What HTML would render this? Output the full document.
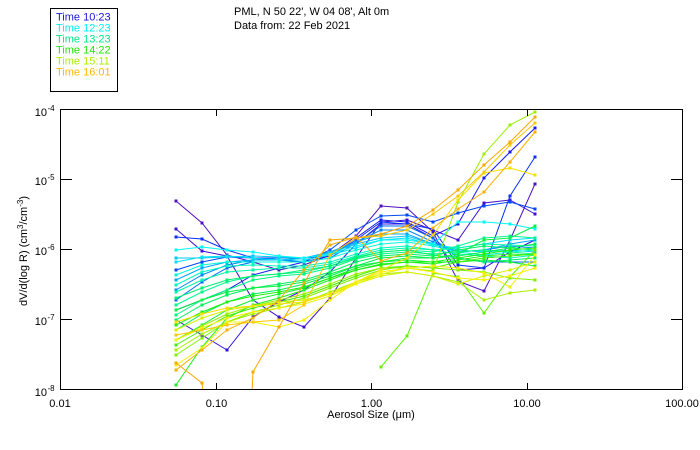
<!DOCTYPE html>
<html>
<head>
<meta charset="utf-8">
<style>
html,body{margin:0;padding:0;background:#fff;width:700px;height:450px;overflow:hidden;}
svg{display:block;}
text{font-family:"Liberation Sans",sans-serif;font-size:11px;fill:#000;}
.s polyline{fill:none;stroke-width:1;}
.s path{fill:none;stroke-width:3;stroke-linecap:square;}
</style>
</head>
<body>
<svg width="700" height="450" viewBox="0 0 700 450" xmlns="http://www.w3.org/2000/svg">
<defs>
<clipPath id="pc"><rect x="60" y="109" width="623" height="281"/></clipPath>
</defs>

<!-- Legend -->
<rect x="50.5" y="8.5" width="67" height="83" fill="none" stroke="#000" stroke-width="1" shape-rendering="crispEdges"/>
<text x="56" y="20.3" style="fill:#1818e0">Time 10:23</text>
<text x="56" y="31.4" style="fill:#00f0f0">Time 12:23</text>
<text x="56" y="42.5" style="fill:#00e888">Time 13:23</text>
<text x="56" y="53.5" style="fill:#20e800">Time 14:22</text>
<text x="56" y="64.6" style="fill:#a8f000">Time 15:11</text>
<text x="56" y="75.7" style="fill:#ffb800">Time 16:01</text>

<!-- Title -->
<text x="234" y="15">PML, N 50 22', W 04 08', Alt 0m</text>
<text x="234" y="29">Data from: 22 Feb 2021</text>

<!-- Series -->
<g class="s" clip-path="url(#pc)">
<g stroke="#5010c0"><polyline points="176,201 202,223 227,255 253,262 279,270 304,265 330,255 356,236 381,206 407,208 433,232 458,281 484,291 510,240 535,184"/><path d="M176 201h0M202 223h0M227 255h0M253 262h0M279 270h0M304 265h0M330 255h0M356 236h0M381 206h0M407 208h0M433 232h0M458 281h0M484 291h0M510 240h0M535 184h0"/></g>
<g stroke="#4010d0"><polyline points="176,229 202,251 227,256 253,300 279,317 304,327 330,298 356,258 381,222 407,220 433,230 458,240 484,203 510,200 535,214"/><path d="M176 229h0M202 251h0M227 256h0M253 300h0M279 317h0M304 327h0M330 298h0M356 258h0M381 222h0M407 220h0M433 230h0M458 240h0M484 203h0M510 200h0M535 214h0"/></g>
<g stroke="#3010e0"><polyline points="176,320 202,335 227,350 253,317 279,302 304,290 330,272 356,244 381,224 407,224 433,238 458,270 484,268 510,252 535,240"/><path d="M176 320h0M202 335h0M227 350h0M253 317h0M279 302h0M304 290h0M330 272h0M356 244h0M381 224h0M407 224h0M433 238h0M458 270h0M484 268h0M510 252h0M535 240h0"/></g>
<g stroke="#1818f0"><polyline points="176,310 202,300 227,290 253,275 279,268 304,262 330,256 356,238 381,220 407,222 433,236 458,224 484,178 510,152 535,128"/><path d="M176 310h0M202 300h0M227 290h0M253 275h0M279 268h0M304 262h0M330 256h0M356 238h0M381 220h0M407 222h0M433 236h0M458 224h0M484 178h0M510 152h0M535 128h0"/></g>
<g stroke="#0a30f8"><polyline points="176,237 202,239 227,250 253,258 279,258 304,258 330,256 356,240 381,222 407,224 433,229 458,265 484,268 510,196 535,157"/><path d="M176 237h0M202 239h0M227 250h0M253 258h0M279 258h0M304 258h0M330 256h0M356 240h0M381 222h0M407 224h0M433 229h0M458 265h0M484 268h0M510 196h0M535 157h0"/></g>
<g stroke="#0048f8"><polyline points="176,270 202,262 227,257 253,258 279,260 304,262 330,250 356,230 381,216 407,215 433,222 458,213 484,206 510,202 535,209"/><path d="M176 270h0M202 262h0M227 257h0M253 258h0M279 260h0M304 262h0M330 250h0M356 230h0M381 216h0M407 215h0M433 222h0M458 213h0M484 206h0M510 202h0M535 209h0"/></g>
<g stroke="#0068f8"><polyline points="176,300 202,282 227,268 253,262 279,262 304,262 330,258 356,243 381,226 407,226 433,238 458,258 484,262 510,262 535,262"/><path d="M176 300h0M202 282h0M227 268h0M253 262h0M279 262h0M304 262h0M330 258h0M356 243h0M381 226h0M407 226h0M433 238h0M458 258h0M484 262h0M510 262h0M535 262h0"/></g>
<g stroke="#0088f8"><polyline points="176,290 202,275 227,265 253,260 279,258 304,258 330,254 356,242 381,230 407,230 433,242 458,252 484,250 510,246 535,248"/><path d="M176 290h0M202 275h0M227 265h0M253 260h0M279 258h0M304 258h0M330 254h0M356 242h0M381 230h0M407 230h0M433 242h0M458 252h0M484 250h0M510 246h0M535 248h0"/></g>
<g stroke="#00a8f8"><polyline points="176,280 202,268 227,262 253,260 279,260 304,258 330,252 356,242 381,234 407,234 433,244 458,252 484,250 510,244 535,240"/><path d="M176 280h0M202 268h0M227 262h0M253 260h0M279 260h0M304 258h0M330 252h0M356 242h0M381 234h0M407 234h0M433 244h0M458 252h0M484 250h0M510 244h0M535 240h0"/></g>
<g stroke="#00c8f8"><polyline points="176,258 202,258 227,257 253,256 279,257 304,258 330,253 356,244 381,238 407,236 433,244 458,250 484,252 510,250 535,252"/><path d="M176 258h0M202 258h0M227 257h0M253 256h0M279 257h0M304 258h0M330 253h0M356 244h0M381 238h0M407 236h0M433 244h0M458 250h0M484 252h0M510 250h0M535 252h0"/></g>
<g stroke="#00e0f8"><polyline points="176,262 202,257 227,256 253,258 279,260 304,260 330,255 356,248 381,240 407,238 433,245 458,248 484,244 510,240 535,238"/><path d="M176 262h0M202 257h0M227 256h0M253 258h0M279 260h0M304 260h0M330 255h0M356 248h0M381 240h0M407 238h0M433 245h0M458 248h0M484 244h0M510 240h0M535 238h0"/></g>
<g stroke="#00f8f8"><polyline points="176,250 202,247 227,250 253,252 279,256 304,258 330,254 356,246 381,240 407,240 433,244 458,222 484,222 510,224 535,229"/><path d="M176 250h0M202 247h0M227 250h0M253 252h0M279 256h0M304 258h0M330 254h0M356 246h0M381 240h0M407 240h0M433 244h0M458 222h0M484 222h0M510 224h0M535 229h0"/></g>
<g stroke="#00f8d8"><polyline points="176,275 202,265 227,262 253,262 279,262 304,262 330,258 356,250 381,244 407,242 433,246 458,252 484,255 510,252 535,250"/><path d="M176 275h0M202 265h0M227 262h0M253 262h0M279 262h0M304 262h0M330 258h0M356 250h0M381 244h0M407 242h0M433 246h0M458 252h0M484 255h0M510 252h0M535 250h0"/></g>
<g stroke="#00f8c0"><polyline points="176,285 202,272 227,266 253,265 279,266 304,266 330,262 356,254 381,248 407,246 433,250 458,254 484,256 510,258 535,255"/><path d="M176 285h0M202 272h0M227 266h0M253 265h0M279 266h0M304 266h0M330 262h0M356 254h0M381 248h0M407 246h0M433 250h0M458 254h0M484 256h0M510 258h0M535 255h0"/></g>
<g stroke="#00f8a8"><polyline points="176,292 202,280 227,272 253,270 279,268 304,268 330,264 356,256 381,250 407,248 433,250 458,248 484,244 510,245 535,246"/><path d="M176 292h0M202 280h0M227 272h0M253 270h0M279 268h0M304 268h0M330 264h0M356 256h0M381 250h0M407 248h0M433 250h0M458 248h0M484 244h0M510 245h0M535 246h0"/></g>
<g stroke="#00f890"><polyline points="176,305 202,292 227,282 253,276 279,274 304,272 330,266 356,257 381,252 407,250 433,252 458,246 484,238 510,236 535,238"/><path d="M176 305h0M202 292h0M227 282h0M253 276h0M279 274h0M304 272h0M330 266h0M356 257h0M381 252h0M407 250h0M433 252h0M458 246h0M484 238h0M510 236h0M535 238h0"/></g>
<g stroke="#00f880"><polyline points="176,315 202,300 227,290 253,280 279,276 304,274 330,268 356,259 381,254 407,252 433,254 458,252 484,250 510,252 535,254"/><path d="M176 315h0M202 300h0M227 290h0M253 280h0M279 276h0M304 274h0M330 268h0M356 259h0M381 254h0M407 252h0M433 254h0M458 252h0M484 250h0M510 252h0M535 254h0"/></g>
<g stroke="#00f070"><polyline points="176,298 202,288 227,280 253,276 279,274 304,270 330,266 356,258 381,252 407,250 433,255 458,258 484,262 510,260 535,258"/><path d="M176 298h0M202 288h0M227 280h0M253 276h0M279 274h0M304 270h0M330 266h0M356 258h0M381 252h0M407 250h0M433 255h0M458 258h0M484 262h0M510 260h0M535 258h0"/></g>
<g stroke="#00f060"><polyline points="176,320 202,305 227,295 253,288 279,284 304,280 330,272 356,262 381,256 407,254 433,256 458,250 484,246 510,248 535,250"/><path d="M176 320h0M202 305h0M227 295h0M253 288h0M279 284h0M304 280h0M330 272h0M356 262h0M381 256h0M407 254h0M433 256h0M458 250h0M484 246h0M510 248h0M535 250h0"/></g>
<g stroke="#00f050"><polyline points="176,330 202,314 227,302 253,294 279,290 304,284 330,276 356,266 381,258 407,256 433,258 458,256 484,252 510,248 535,244"/><path d="M176 330h0M202 314h0M227 302h0M253 294h0M279 290h0M304 284h0M330 276h0M356 266h0M381 258h0M407 256h0M433 258h0M458 256h0M484 252h0M510 248h0M535 244h0"/></g>
<g stroke="#08f040"><polyline points="176,310 202,300 227,292 253,288 279,286 304,282 330,274 356,266 381,262 407,258 433,258 458,254 484,240 510,238 535,226"/><path d="M176 310h0M202 300h0M227 292h0M253 288h0M279 286h0M304 282h0M330 274h0M356 266h0M381 262h0M407 258h0M433 258h0M458 254h0M484 240h0M510 238h0M535 226h0"/></g>
<g stroke="#10f030"><polyline points="176,340 202,325 227,310 253,300 279,294 304,288 330,278 356,268 381,262 407,260 433,262 458,262 484,260 510,262 535,266"/><path d="M176 340h0M202 325h0M227 310h0M253 300h0M279 294h0M304 288h0M330 278h0M356 268h0M381 262h0M407 260h0M433 262h0M458 262h0M484 260h0M510 262h0M535 266h0"/></g>
<g stroke="#18f020"><polyline points="176,385 202,347 227,318 253,305 279,298 304,290 330,280 356,270 381,264 407,262 433,264 458,260 484,256 510,254 535,255"/><path d="M176 385h0M202 347h0M227 318h0M253 305h0M279 298h0M304 290h0M330 280h0M356 270h0M381 264h0M407 262h0M433 264h0M458 260h0M484 256h0M510 254h0M535 255h0"/></g>
<g stroke="#20f010"><polyline points="176,325 202,312 227,302 253,296 279,292 304,287 330,278 356,270 381,265 407,262 433,262 458,258 484,254 510,250 535,248"/><path d="M176 325h0M202 312h0M227 302h0M253 296h0M279 292h0M304 287h0M330 278h0M356 270h0M381 265h0M407 262h0M433 262h0M458 258h0M484 254h0M510 250h0M535 248h0"/></g>
<g stroke="#40f000"><polyline points="176,345 202,330 227,316 253,308 279,302 304,296 330,286 356,276 381,268 407,266 433,268 458,262 484,258 510,256 535,254"/><path d="M176 345h0M202 330h0M227 316h0M253 308h0M279 302h0M304 296h0M330 286h0M356 276h0M381 268h0M407 266h0M433 268h0M458 262h0M484 258h0M510 256h0M535 254h0"/></g>
<g stroke="#60f000"><polyline points="381,367 407,336 433,273 458,277 484,313 510,277 535,250"/><path d="M381 367h0M407 336h0M433 273h0M458 277h0M484 313h0M510 277h0M535 250h0"/></g>
<g stroke="#80f000"><polyline points="176,355 202,338 227,322 253,312 279,305 304,298 330,288 356,278 381,270 407,266 433,268 458,270 484,272 510,278 535,280"/><path d="M176 355h0M202 338h0M227 322h0M253 312h0M279 305h0M304 298h0M330 288h0M356 278h0M381 270h0M407 266h0M433 268h0M458 270h0M484 272h0M510 278h0M535 280h0"/></g>
<g stroke="#98f000"><polyline points="176,340 202,326 227,314 253,306 279,300 304,294 330,284 356,274 381,268 407,268 433,271 458,202 484,154 510,125 535,112"/><path d="M176 340h0M202 326h0M227 314h0M253 306h0M279 300h0M304 294h0M330 284h0M356 274h0M381 268h0M407 268h0M433 271h0M458 202h0M484 154h0M510 125h0M535 112h0"/></g>
<g stroke="#a8f000"><polyline points="176,350 202,334 227,322 253,314 279,308 304,302 330,292 356,282 381,274 407,272 433,276 458,282 484,300 510,293 535,290"/><path d="M176 350h0M202 334h0M227 322h0M253 314h0M279 308h0M304 302h0M330 292h0M356 282h0M381 274h0M407 272h0M433 276h0M458 282h0M484 300h0M510 293h0M535 290h0"/></g>
<g stroke="#d8f000"><polyline points="176,330 202,318 227,310 253,306 279,302 304,300 330,294 356,284 381,276 407,272 433,276 458,284 484,276 510,270 535,262"/><path d="M176 330h0M202 318h0M227 310h0M253 306h0M279 302h0M304 300h0M330 294h0M356 284h0M381 276h0M407 272h0M433 276h0M458 284h0M484 276h0M510 270h0M535 262h0"/></g>
<g stroke="#f0f000"><polyline points="176,340 202,328 227,318 253,312 279,308 304,304 330,296 356,284 381,274 407,268 433,266 458,268 484,273 510,287 535,255"/><path d="M176 340h0M202 328h0M227 318h0M253 312h0M279 308h0M304 304h0M330 296h0M356 284h0M381 274h0M407 268h0M433 266h0M458 268h0M484 273h0M510 287h0M535 255h0"/></g>
<g stroke="#f8e000"><polyline points="176,322 202,314 227,308 253,306 279,304 304,302 330,294 356,282 381,270 407,258 433,235 458,200 484,173 510,168 535,175"/><path d="M176 322h0M202 314h0M227 308h0M253 306h0M279 304h0M304 302h0M330 294h0M356 282h0M381 270h0M407 258h0M433 235h0M458 200h0M484 173h0M510 168h0M535 175h0"/></g>
<g stroke="#f8f000"><polyline points="176,365 202,348 227,322 253,322 279,327 304,320 330,300 356,282 381,272 407,268 433,272 458,278 484,280 510,276 535,268"/><path d="M176 365h0M202 348h0M227 322h0M253 322h0M279 327h0M304 320h0M330 300h0M356 282h0M381 272h0M407 268h0M433 272h0M458 278h0M484 280h0M510 276h0M535 268h0"/></g>
<g stroke="#f8c800"><polyline points="176,335 202,330 227,325 253,322 279,320 304,305 330,255 356,238 381,236 407,230 433,214 458,196 484,172 510,145 535,123"/><path d="M176 335h0M202 330h0M227 325h0M253 322h0M279 320h0M304 305h0M330 255h0M356 238h0M381 236h0M407 230h0M433 214h0M458 196h0M484 172h0M510 145h0M535 123h0"/></g>
<g stroke="#f8a800"><polyline points="176,363 202,383 203,392"/><polyline points="252,392 253,372 279,327 304,283 330,240 356,238 381,234 407,226 433,210 458,190 484,165 510,142 535,117"/><path d="M176 363h0M202 383h0M253 372h0M279 327h0M304 283h0M330 240h0M356 238h0M381 234h0M407 226h0M433 210h0M458 190h0M484 165h0M510 142h0M535 117h0"/></g>
<g stroke="#f8b000"><polyline points="176,370 202,350 227,330 253,318 279,300 304,270 330,245 356,237 381,261 407,253 433,228 458,209 484,192 510,162 535,132"/><path d="M176 370h0M202 350h0M227 330h0M253 318h0M279 300h0M304 270h0M330 245h0M356 237h0M381 261h0M407 253h0M433 228h0M458 209h0M484 192h0M510 162h0M535 132h0"/></g>
</g>

<!-- Axes frame and ticks -->
<g stroke="#000" stroke-width="1" fill="none" shape-rendering="crispEdges">
<rect x="60.5" y="109.5" width="622" height="280"/>
<line x1="60" y1="179.5" x2="72" y2="179.5"/>
<line x1="60" y1="249.5" x2="72" y2="249.5"/>
<line x1="60" y1="319.5" x2="72" y2="319.5"/>
<line x1="671" y1="179.5" x2="683" y2="179.5"/>
<line x1="671" y1="249.5" x2="683" y2="249.5"/>
<line x1="671" y1="319.5" x2="683" y2="319.5"/>
<line x1="216.5" y1="383" x2="216.5" y2="390"/>
<line x1="371.5" y1="383" x2="371.5" y2="390"/>
<line x1="527.5" y1="383" x2="527.5" y2="390"/>
<line x1="216.5" y1="109" x2="216.5" y2="116"/>
<line x1="371.5" y1="109" x2="371.5" y2="116"/>
<line x1="527.5" y1="109" x2="527.5" y2="116"/>
</g>

<!-- Y tick labels -->
<text x="47" y="116" text-anchor="end">10</text><text x="47.5" y="111" style="font-size:8px">-4</text>
<text x="47" y="185" text-anchor="end">10</text><text x="47.5" y="180" style="font-size:8px">-5</text>
<text x="47" y="255" text-anchor="end">10</text><text x="47.5" y="250" style="font-size:8px">-6</text>
<text x="47" y="325" text-anchor="end">10</text><text x="47.5" y="320" style="font-size:8px">-7</text>
<text x="47" y="396" text-anchor="end">10</text><text x="47.5" y="391" style="font-size:8px">-8</text>

<!-- X tick labels -->
<text x="60" y="407" text-anchor="middle">0.01</text>
<text x="216.5" y="407" text-anchor="middle">0.10</text>
<text x="371.5" y="407" text-anchor="middle">1.00</text>
<text x="527" y="407" text-anchor="middle">10.00</text>
<text x="682" y="407" text-anchor="middle">100.00</text>

<!-- Axis titles -->
<text x="371" y="418" text-anchor="middle">Aerosol Size (μm)</text>
<text transform="translate(27,251) rotate(-90)" text-anchor="middle">dV/d(log R)  (cm<tspan dy="-4" style="font-size:8px">3</tspan><tspan dy="4">/cm</tspan><tspan dy="-4" style="font-size:8px">-3</tspan><tspan dy="4">)</tspan></text>
</svg>
</body>
</html>
